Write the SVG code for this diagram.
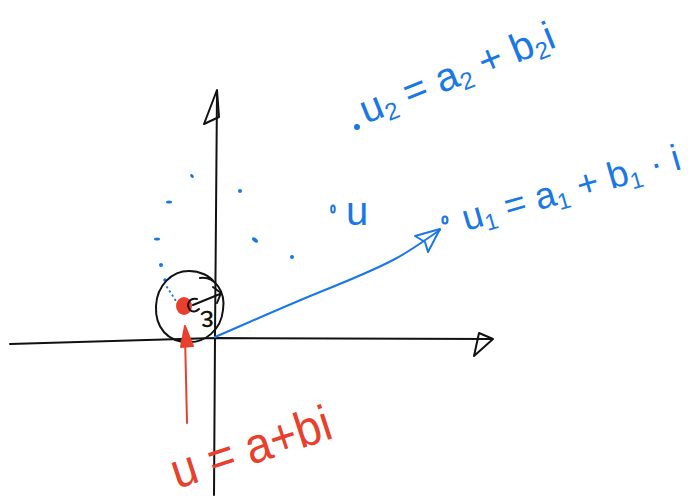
<svg xmlns="http://www.w3.org/2000/svg" width="694" height="498" viewBox="0 0 694 498">
<style>
.ink{fill:none;stroke:#111;stroke-width:2;stroke-linecap:round;stroke-linejoin:round}
.blue{fill:none;stroke:#1a78e6;stroke-width:2;stroke-linecap:round;stroke-linejoin:round}
.bdot{fill:#1a78e6}
.red{fill:none;stroke:#e8402c;stroke-width:2;stroke-linecap:round;stroke-linejoin:round}
.bt{font-family:"Liberation Sans",Arial,sans-serif;fill:#1a78e6}
.rt{font-family:"Liberation Sans",Arial,sans-serif;fill:#e8402c}
</style>
<rect width="694" height="498" fill="#fff"/>
<g id="axes">
<path class="ink" d="M217,92 L215,337 L214,495"/>
<path class="ink" d="M217,90 L204,124 L219,117 Z"/>
<path class="ink" d="M10,344 C100,342 180,339 215,338 L492,339"/>
<path class="ink" d="M479,333 L493,339 L474,356 Z"/>
</g>
<g id="dots">
<ellipse class="bdot" cx="192" cy="176" rx="1.5" ry="2.2" transform="rotate(-40 192 176)"/>
<circle class="bdot" cx="240" cy="191" r="2"/>
<ellipse class="bdot" cx="169" cy="202" rx="3" ry="1.6"/>
<ellipse class="bdot" cx="157" cy="239" rx="3" ry="1.6"/>
<circle class="bdot" cx="161" cy="265" r="2"/>
<circle class="bdot" cx="165" cy="280" r="1.8"/>
<ellipse class="bdot" cx="255" cy="240" rx="3.5" ry="2" transform="rotate(40 255 240)"/>
<circle class="bdot" cx="292" cy="257" r="2"/>
<path class="blue" d="M167,287 L178,304" stroke-dasharray="0.5 4.5" stroke-width="2.2"/>
</g>
<g id="neighbourhood">
<path class="ink" d="M200,278 C215,276 226,292 223,310 C221,330 205,343 188,342 C168,342 155,328 156,306 C157,285 172,271 189,271 C200,271 210,276 214,282"/>
<ellipse cx="184" cy="306" rx="8" ry="9" fill="#e8402c"/>
<path class="ink" d="M197,299 C189,297 186,305 190,310 C193,313 197,311 199,309"/>
<path class="ink" d="M193,305 L220,294"/>
<path class="ink" d="M213,287 L221,293 L217,303"/>
<text x="0" y="8" transform="translate(207,319) rotate(175)" text-anchor="middle" font-family="Liberation Sans,Arial,sans-serif" font-size="30" fill="#111">ε</text>
</g>
<g id="connectors">
<path class="blue" d="M215,337 C250,322 283,307 320,292 C355,278 380,267 395,259 C412,250 425,240 440,230"/>
<path class="blue" d="M415,236 L440,229 L428,252 L425,242 Z"/>
<path class="red" d="M187,423 L185,335"/>
<path d="M185,326 L181,347 L193,346 Z" fill="#e8402c" stroke="#e8402c" stroke-width="2" stroke-linejoin="round"/>
</g>
<g id="u">
<ellipse cx="333" cy="209" rx="1.8" ry="3.5" fill="none" stroke="#1a78e6" stroke-width="2"/>
<text class="bt" x="346" y="225" font-size="40">u</text>
</g>
<g id="u1">
<ellipse cx="445" cy="220" rx="2.5" ry="3.5" fill="none" stroke="#1a78e6" stroke-width="2.2"/>
<text class="bt" transform="translate(466,231) rotate(-16)" font-size="37">u<tspan font-size="23" dy="6">1</tspan><tspan dy="-6"> = a</tspan><tspan font-size="23" dy="6">1</tspan><tspan dy="-6"> + b</tspan><tspan font-size="23" dy="6">1</tspan><tspan dy="-6"> · i</tspan></text>
</g>
<g id="u2">
<circle class="bdot" cx="357" cy="127" r="3"/>
<text class="bt" transform="translate(366,124) rotate(-22)" font-size="40">u<tspan font-size="24" dy="6">2</tspan><tspan dy="-6"> = a</tspan><tspan font-size="24" dy="6">2</tspan><tspan dy="-6"> + b</tspan><tspan font-size="24" dy="6">2</tspan><tspan dy="-6">i</tspan></text>
</g>
<g id="label-u">
<text class="rt" transform="translate(177,489) rotate(-18)" font-size="50" textLength="166" lengthAdjust="spacingAndGlyphs">u = a+bi</text>
</g>
</svg>
